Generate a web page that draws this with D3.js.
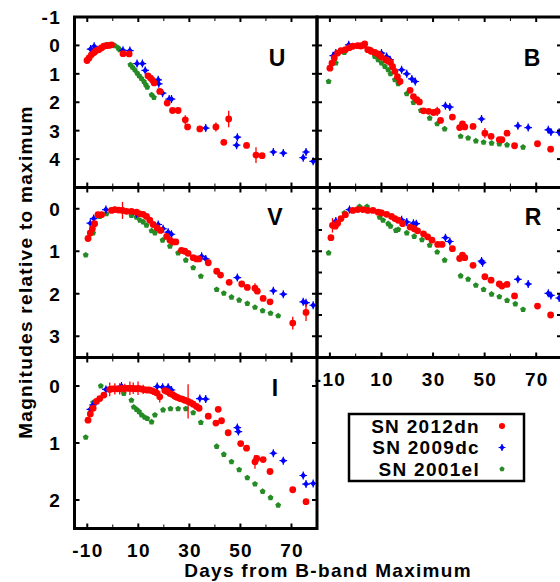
<!DOCTYPE html>
<html><head><meta charset="utf-8">
<script src="https://cdn.jsdelivr.net/npm/d3@7"></script>
<style>
body{margin:0;background:#fff}
text{font-family:"Liberation Sans",Arial,Helvetica,sans-serif;font-weight:bold;fill:#000}
</style>
</head><body>
<svg id="c" width="560" height="582"></svg>
<script>
// ---------------- data ----------------
const seriesNames = ["SN 2012dn", "SN 2009dc", "SN 2001el"];
const xTickValues = [-10, 0, 10, 20, 30, 40, 50, 60, 70];
const xTickLabels = [-10, 10, 30, 50, 70];
const yLabelsU = [-1, 0, 1, 2, 3, 4];
const yLabelsV = [0, 1, 2, 3];
const yLabelsI = [0, 1, 2];

// [day, mag, (err)]
const U_2012dn = [[-10.1,0.53],[-9.3,0.44],[-8.4,0.33],[-7.3,0.25],[-6.4,0.18],[-5.5,0.15],[-4.5,0.09],[-3.5,0.03],[-2.5,0.01],[-1.5,0.0],[-0.5,-0.02],[4.0,0.29],[6.4,0.30],[13.8,1.07],[14.8,1.15],[15.6,1.23],[16.2,1.32],[18.4,1.62],[21.3,2.03],[23.4,2.29],[25.6,2.29],[28.4,2.62,0.16],[29.3,2.87],[34.1,2.94],[40.4,2.87,0.16],[43.5,3.41],[45.4,2.59,0.29],[52.4,3.52],[56.1,3.86,0.28],[58.5,3.88]];
const U_2009dc = [[-8.7,0.13],[-7.3,0.03],[4.0,0.17],[6.7,0.18],[9.5,0.64],[11.6,0.64],[12.7,0.88],[17.8,1.21],[18.0,1.35],[19.5,1.68],[22.1,1.89],[23.0,1.89],[36.4,2.91],[48.8,3.23],[48.5,3.51],[62.9,3.75],[66.8,3.79],[74.6,3.95],[75.7,3.75],[78.5,4.08]];
const U_2001el = [[-2.5,-0.02],[-1.5,-0.01],[0.8,0.01],[2.1,0.09],[2.7,0.15],[6.9,0.68],[7.7,0.77],[8.6,0.86],[9.5,0.97],[10.3,1.07],[11.2,1.16],[12.2,1.27],[12.9,1.38],[13.5,1.47],[15.2,1.74],[16.1,1.83]];

const B_2012dn = [[-10.0,0.80],[-9.2,0.62],[-8.3,0.44],[-7.0,0.27],[-5.7,0.18],[-4.0,0.15],[-2.5,0.08],[-1.1,0.03],[0.8,0.01],[2.0,0.02],[2.8,0.0],[3.5,-0.05],[4.7,0.15],[5.5,0.17],[6.1,0.21],[7.4,0.25],[8.7,0.30],[9.3,0.35],[10.0,0.41],[11.7,0.50],[12.5,0.55],[13.5,0.60],[14.3,0.75],[15.2,0.91],[16.2,1.10],[17.2,1.27],[21.1,1.58],[22.4,1.80],[23.7,1.91],[24.7,1.99],[26.3,2.30],[28.3,2.32],[30.2,2.36],[31.6,2.32,0.16],[32.9,2.64],[37.5,2.52],[40.3,2.89],[41.4,2.76,0.1],[42.3,2.87],[45.5,2.85],[50.1,3.09,0.18],[52.5,3.20],[55.7,3.32],[56.7,3.32],[58.7,3.09],[61.6,3.53],[70.5,3.46],[75.6,3.65]];
const B_2009dc = [[-8.7,0.36],[-7.7,0.27],[-2.7,-0.02],[10.0,0.27],[12.0,0.39],[13.3,0.50],[17.8,0.86],[19.8,1.00],[21.8,1.18],[23.1,1.27],[34.8,2.12],[36.5,2.17],[48.8,2.59],[62.9,2.83],[66.9,2.89],[74.7,2.97],[75.7,3.05],[78.9,3.06]];
const B_2001el = [[-10.5,1.27],[-7.7,0.62],[-4.4,0.25],[-2.4,0.09],[0.8,0.01],[7.4,0.39],[8.7,0.50],[10.0,0.62],[11.3,0.74],[12.6,0.86],[13.5,1.00],[15.2,1.21],[16.5,1.35],[19.8,1.70],[22.4,2.01],[25.3,2.29],[28.7,2.56],[31.6,2.76],[34.5,2.94],[40.7,3.20],[43.6,3.26],[46.6,3.36],[49.6,3.41],[52.7,3.44],[55.7,3.47],[58.7,3.50],[64.9,3.58]];

const V_2012dn = [[-9.7,0.70],[-8.8,0.57],[-8.0,0.47],[-7.1,0.35],[-5.8,0.14],[-4.4,0.14],[-0.5,0.04],[0.8,0.02],[2.3,0.03],[3.8,0.04,0.2],[5.4,0.06],[7.3,0.06],[9.3,0.08],[10.6,0.12],[11.9,0.13],[13.2,0.18],[14.5,0.27],[15.8,0.37],[17.4,0.45],[18.7,0.51],[21.1,0.65],[22.4,0.74],[23.6,0.78],[24.7,0.78],[26.9,0.98],[28.2,1.00],[29.5,1.05],[31.5,1.15],[32.8,1.18],[33.8,1.18],[37.4,1.27],[40.7,1.47],[42.2,1.56],[45.6,1.73],[50.5,1.77],[52.7,1.85],[55.7,1.87,0.12],[56.6,1.94],[58.9,2.11],[61.6,2.19],[70.5,2.69,0.15],[75.7,2.44,0.2]];
const V_2009dc = [[-8.8,0.34],[-7.5,0.23],[-2.7,0.02],[9.3,0.12],[17.8,0.37],[19.7,0.47],[21.7,0.55],[23.0,0.60],[34.8,1.12],[36.4,1.18],[48.8,1.62],[62.9,1.93],[66.8,2.01],[74.6,2.19],[75.7,2.21],[78.5,2.27]];
const V_2001el = [[-10.6,1.09],[-7.7,0.57],[-5.1,0.18],[-2.5,0.12],[0.8,0.02],[7.3,0.16],[9.3,0.20],[10.6,0.27],[11.9,0.31],[13.2,0.39],[15.2,0.52],[16.5,0.57],[19.5,0.74],[22.4,0.88],[25.6,1.04],[28.6,1.21],[31.5,1.39],[34.5,1.59],[40.7,1.90],[43.5,1.99],[46.5,2.08],[49.5,2.15],[52.7,2.23],[55.7,2.32],[58.7,2.40],[61.8,2.46],[64.8,2.52]];

const R_2012dn = [[-9.6,0.68],[-9.0,0.39,0.17],[-7.9,0.41],[-7.0,0.34],[-5.7,0.23],[-4.0,0.14],[-1.1,0.04],[0.8,0.02],[2.8,0.02],[4.7,0.04],[6.7,0.04],[8.7,0.08],[10.0,0.10,0.08],[12.0,0.13],[13.9,0.18],[15.2,0.23],[16.5,0.27],[18.2,0.35],[21.1,0.43],[22.7,0.47],[24.0,0.52],[26.3,0.59],[27.9,0.66],[29.6,0.74],[31.8,0.84],[33.5,0.84],[37.5,0.94],[40.3,1.17],[41.4,1.09],[42.3,1.15],[45.5,1.33],[50.1,1.60],[52.5,1.68],[55.7,1.77],[56.7,1.82],[58.7,1.78],[61.6,2.05],[70.5,2.29],[75.6,2.50]];
const R_2009dc = [[-7.7,0.29],[-2.4,0.02],[17.8,0.26],[19.8,0.31],[22.4,0.34],[23.5,0.35],[34.8,0.68],[36.5,0.77],[48.8,1.23],[49.2,1.27],[62.9,1.66],[66.9,1.77],[74.7,1.99],[75.7,2.04],[78.9,2.10]];
const R_2001el = [[-10.5,1.04],[-4.4,0.10],[1.5,-0.05],[4.4,-0.05],[9.3,0.20],[10.6,0.27],[12.6,0.35],[13.5,0.41],[15.6,0.51],[16.5,0.49],[19.8,0.57],[22.7,0.65],[25.7,0.73],[28.7,0.86],[31.6,1.02],[34.5,1.21],[40.7,1.58],[43.6,1.66],[46.6,1.80],[49.6,1.90],[52.7,2.01],[55.7,2.07],[58.7,2.16],[61.9,2.24],[64.9,2.37]];

const I_2012dn = [[-9.7,0.60],[-8.8,0.49],[-7.7,0.39],[-6.4,0.27],[-5.1,0.22],[-3.5,0.16],[-1.2,0.06,0.12],[-0.2,0.05],[0.8,0.05,0.1],[1.8,0.05],[2.7,0.05,0.1],[3.7,0.04],[4.7,0.04,0.08],[5.7,0.04],[6.7,0.04,0.12],[7.4,0.04],[8.0,0.04,0.1],[9.0,0.05],[9.9,0.04,0.12],[10.9,0.05],[11.9,0.06,0.08],[13.2,0.07],[14.2,0.07],[15.2,0.08],[16.2,0.10],[17.1,0.12],[18.4,0.19,0.1],[20.4,0.08],[21.4,0.10],[22.4,0.13],[23.4,0.15],[24.3,0.18,0.06],[25.3,0.20],[26.3,0.22],[27.2,0.23],[28.2,0.25],[29.5,0.27,0.3],[30.5,0.29],[31.5,0.32],[32.8,0.36],[33.8,0.39],[37.4,0.53],[40.4,0.65],[41.3,0.41],[42.6,0.61],[45.2,0.82],[50.1,1.01],[52.4,1.09],[55.7,1.33,0.12],[56.4,1.27],[58.9,1.29],[61.6,1.50],[70.5,1.82],[75.7,2.03]];
const I_2009dc = [[-8.8,0.41],[-7.7,0.33],[-2.7,0.06],[3.4,0.0],[17.4,0.01],[19.5,0.02],[21.7,0.02],[23.0,0.07],[34.1,0.22],[36.4,0.23],[48.8,0.73],[49.2,0.80],[62.9,1.18],[66.8,1.31],[74.6,1.57],[75.7,1.72],[78.5,1.71]];
const I_2001el = [[-10.6,0.90],[-7.7,0.29],[-4.7,0.00],[4.3,0.13],[7.3,0.25],[8.2,0.37],[9.3,0.41],[10.3,0.45],[11.3,0.51],[12.5,0.55],[13.5,0.57],[15.2,0.63],[16.5,0.51],[19.7,0.42],[22.6,0.40],[25.6,0.40],[28.6,0.40],[31.5,0.47],[34.5,0.64],[40.7,1.06],[43.5,1.20],[46.5,1.33],[49.5,1.47],[52.7,1.61],[55.7,1.72],[58.7,1.85],[61.8,1.96],[64.8,2.09]];

// ---------------- drawing ----------------
const RED = "#ff0000", BLUE = "#0000ff", GREEN = "#258b25";
const svg = d3.select("#c");
const colX = [[74.5, 317], [317, 562]];
const rowY = [[17, 187.5], [187.5, 357.5], [357.5, 528.5]];
const xDomain = [-15, 80];

const panels = [
  {band:"U", col:0, row:0, yd:[-1,5], yt:[-1,0,1,2,3,4,5], yl:yLabelsU, lab:[277,58], d:[U_2001el,U_2009dc,U_2012dn]},
  {band:"B", col:1, row:0, yd:[-1,5], yt:[-1,0,1,2,3,4,5], yl:[], lab:[532,58], d:[B_2001el,B_2009dc,B_2012dn]},
  {band:"V", col:0, row:1, yd:[-0.5,3.5], yt:[0,1,2,3], yl:yLabelsV, lab:[275,217], d:[V_2001el,V_2009dc,V_2012dn]},
  {band:"R", col:1, row:1, yd:[-0.5,3.5], yt:[0,0.5,1,1.5,2,2.5,3], yl:[], lab:[533,217], d:[R_2001el,R_2009dc,R_2012dn], xlab:true},
  {band:"I", col:0, row:2, yd:[-0.5,2.5], yt:[0,1,2], yl:yLabelsI, lab:[275,388], d:[I_2001el,I_2009dc,I_2012dn], xlab:true}
];

function marker(g, kind, x, y, s) {
  s = s || 1;
  if (kind === 2) {
    g.append("circle").attr("cx", x).attr("cy", y).attr("r", 3.4 * s).attr("fill", RED);
  } else if (kind === 1) {
    g.append("path").attr("d", `M${x},${y-3.3*s}L${x+2.9*s},${y}L${x},${y+3.3*s}L${x-2.9*s},${y}Z`).attr("fill", BLUE);
    g.append("path").attr("d", `M${x-3.8*s},${y}H${x+3.8*s}M${x},${y-4*s}V${y+4*s}`).attr("stroke", BLUE).attr("stroke-width", 1.2);
  } else {
    const r = 3.1 * s; let p = "";
    for (let k = 0; k < 5; k++) {
      const a = -Math.PI / 2 + k * 2 * Math.PI / 5;
      p += (k ? "L" : "M") + (x + r * Math.cos(a)).toFixed(2) + "," + (y + r * Math.sin(a)).toFixed(2);
    }
    g.append("path").attr("d", p + "Z").attr("fill", GREEN);
  }
}

const labelStyle = sel => sel.style("font-size", "19px").style("letter-spacing", "1.3px");

// x tick labels drawn first so frames overlap them
panels.forEach(p => {
  if (!p.xlab) return;
  const [x0, x1] = colX[p.col];
  const [y0, y1] = rowY[p.row];
  const x = d3.scaleLinear().domain(xDomain).range([x0, x1]);
  xTickLabels.forEach(t => {
    svg.append("text").attr("x", x(t) + 0.65).attr("y", y1 + 28.5)
      .attr("text-anchor", "middle").text(t).call(labelStyle);
  });
});

panels.forEach(p => {
  const [x0, x1] = colX[p.col];
  const [y0, y1] = rowY[p.row];
  const x = d3.scaleLinear().domain(xDomain).range([x0, x1]);
  const y = d3.scaleLinear().domain(p.yd).range([y0, y1]);
  const g = svg.append("g");

  // data: green, blue, red
  p.d.forEach((arr, k) => {
    arr.forEach(pt => {
      if (pt.length > 2) {
        g.append("line").attr("x1", x(pt[0])).attr("x2", x(pt[0]))
          .attr("y1", y(pt[1] - pt[2])).attr("y2", y(pt[1] + pt[2]))
          .attr("stroke", k === 2 ? RED : k === 1 ? BLUE : GREEN).attr("stroke-width", 1.3);
      }
    });
    arr.forEach(pt => marker(g, k, x(pt[0]), y(pt[1])));
  });

  // ticks
  xTickValues.forEach(t => {
    const major = xTickLabels.includes(t);
    const len = major ? 5 : 4, w = major ? 2 : 1;
    g.append("line").attr("x1", x(t)).attr("x2", x(t)).attr("y1", y1).attr("y2", y1 - len).attr("stroke", "#000").attr("stroke-width", w);
    g.append("line").attr("x1", x(t)).attr("x2", x(t)).attr("y1", y0).attr("y2", y0 + len).attr("stroke", "#000").attr("stroke-width", w);
  });
  p.yt.forEach(t => {
    g.append("line").attr("x1", x0).attr("x2", x0 + 5).attr("y1", y(t)).attr("y2", y(t)).attr("stroke", "#000").attr("stroke-width", 2);
    g.append("line").attr("x1", x1).attr("x2", x1 - 5).attr("y1", y(t)).attr("y2", y(t)).attr("stroke", "#000").attr("stroke-width", 2);
  });
  p.yl.forEach(t => {
    g.append("text").attr("x", 61).attr("y", y(t)).attr("dy", "0.36em")
      .attr("text-anchor", "end").text(t).call(labelStyle);
  });

  // frame
  g.append("rect").attr("x", x0).attr("y", y0).attr("width", x1 - x0).attr("height", y1 - y0)
    .attr("fill", "none").attr("stroke", "#000").attr("stroke-width", 3);

  // band label
  g.append("text").attr("x", p.lab[0]).attr("y", p.lab[1]).attr("dy", "0.36em")
    .attr("text-anchor", "middle").style("font-size", "23px").text(p.band);
});

// legend
const lg = svg.append("g");
lg.append("rect").attr("x", 349).attr("y", 414).attr("width", 175).attr("height", 67)
  .attr("fill", "#fff").attr("stroke", "#000").attr("stroke-width", 2.5);
const legendRows = [426, 447.5, 469];
const legendKinds = [2, 1, 0];
seriesNames.forEach((n, i) => {
  lg.append("text").attr("x", 480).attr("y", legendRows[i]).attr("dy", "0.36em")
    .attr("text-anchor", "end").text(n).call(labelStyle);
  marker(lg, legendKinds[i], 502, legendRows[i], 0.9);
});

// axis titles
svg.append("text").attr("transform", "translate(31.5,272) rotate(-90)")
  .attr("text-anchor", "middle").text("Magnitudes relative to maximum").call(labelStyle);
svg.append("text").attr("x", 328).attr("y", 577)
  .attr("text-anchor", "middle").text("Days from B-band Maximum").call(labelStyle);
</script>
</body></html>
